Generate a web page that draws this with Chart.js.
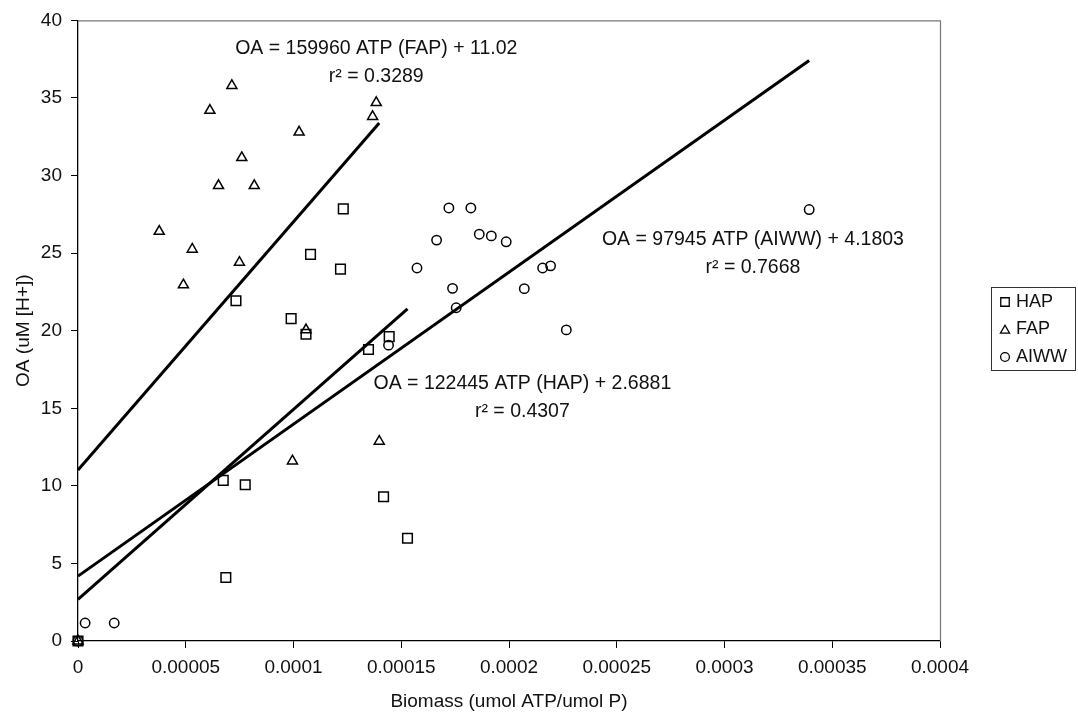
<!DOCTYPE html>
<html>
<head>
<meta charset="utf-8">
<title>OA vs Biomass</title>
<script src="https://cdn.jsdelivr.net/npm/chart.js@4/dist/chart.umd.min.js"></script>
<style>
  html, body { margin: 0; padding: 0; background: #fff; }
  canvas { display: block; }
</style>
</head>
<body>
<canvas id="oaChart" width="1078" height="715"></canvas>
<script>
// Series values (x = umol ATP/umol P, y = uM [H+])
const hapX = [0, 0.0000686, 0.0000674, 0.0000776, 0.0000733, 0.0000989, 0.0001058, 0.0001079, 0.0001218, 0.0001231, 0.0001348, 0.0001444, 0.0001418, 0.0001529];
const hapY = [0, 4.09, 10.35, 10.07, 21.93, 20.78, 19.77, 24.92, 23.97, 27.85, 18.79, 19.62, 9.3, 6.62];

const fapX = [0, 0.0000377, 0.0000489, 0.000053, 0.0000612, 0.0000652, 0.0000714, 0.0000749, 0.000076, 0.0000818, 0.0000995, 0.0001026, 0.0001058, 0.0001367, 0.0001384, 0.0001398];
const fapY = [0, 26.4, 22.95, 25.25, 34.2, 29.35, 35.8, 24.4, 31.15, 29.35, 11.6, 32.8, 20.05, 33.8, 34.7, 12.87];

const aiwwX = [0, 0.0000033, 0.0000168, 0.0001441, 0.0001573, 0.0001664, 0.0001721, 0.0001738, 0.0001755, 0.0001823, 0.0001862, 0.0001918, 0.0001987, 0.0002071, 0.0002156, 0.0002193, 0.0002266, 0.0003393];
const aiwwY = [0, 1.16, 1.16, 19.07, 24.04, 25.84, 27.91, 22.73, 21.48, 27.91, 26.22, 26.11, 25.73, 22.71, 24.04, 24.18, 20.05, 27.81];

// Linear fits: OA = slope * ATP + intercept
const seriesNames = ['HAP', 'FAP', 'AIWW'];
const fitSlopes = [122445, 159960, 97945];
const fitIntercepts = ['2.6881', '11.02', '4.1803'];
const fitR2 = ['0.4307', '0.3289', '0.7668'];

// Axis ticks
const xTickValues = [0, 0.00005, 0.0001, 0.00015, 0.0002, 0.00025, 0.0003, 0.00035, 0.0004];
const xTickLabels = ['0', '0.00005', '0.0001', '0.00015', '0.0002', '0.00025', '0.0003', '0.00035', '0.0004'];
const yTickValues = [0, 5, 10, 15, 20, 25, 30, 35, 40];

const seriesX = [hapX, fapX, aiwwX];
const seriesY = [hapY, fapY, aiwwY];
const markerStyles = [
  { pointStyle: 'rect', radius: 6.8 },
  { pointStyle: 'triangle', radius: 5.8 },
  { pointStyle: 'circle', radius: 4.7 }
];
// where the equation labels sit, in data units (centre of the text block)
const labelAnchors = [
  { x: 0.0002062, y: 16.6 },
  { x: 0.0001384, y: 38.2 },
  { x: 0.0003132, y: 25.9 }
];

const FONT = 'Arial, "Liberation Sans", sans-serif';
Chart.defaults.font.family = FONT;
Chart.defaults.font.size = 19;
Chart.defaults.color = '#111';

const toPoints = (xs, ys) => xs.map((x, i) => ({ x: x, y: ys[i] }));

const datasets = [];
seriesNames.forEach((name, i) => {
  datasets.push({
    type: 'scatter',
    label: name,
    data: toPoints(seriesX[i], seriesY[i]),
    pointStyle: markerStyles[i].pointStyle,
    pointRadius: markerStyles[i].radius,
    pointBorderWidth: 1.5,
    borderColor: '#000',
    backgroundColor: 'rgba(0,0,0,0)',
    clip: false,
    order: 1
  });
});
seriesNames.forEach((name, i) => {
  const xEnd = Math.max(...seriesX[i]);
  const b = parseFloat(fitIntercepts[i]);
  datasets.push({
    type: 'line',
    label: name + ' fit',
    data: [{ x: 0, y: b }, { x: xEnd, y: fitSlopes[i] * xEnd + b }],
    borderColor: '#000',
    borderWidth: 3,
    pointRadius: 0,
    fill: false,
    tension: 0,
    clip: false,
    order: 2
  });
});

// top/right frame of the plot area
const frame = {
  id: 'frame',
  beforeDatasetsDraw(chart) {
    const { ctx, chartArea: a } = chart;
    ctx.save();
    ctx.strokeStyle = '#777';
    ctx.lineWidth = 1.2;
    ctx.beginPath();
    ctx.moveTo(a.left, a.top + 0.5);
    ctx.lineTo(a.right + 0.5, a.top + 0.5);
    ctx.lineTo(a.right + 0.5, a.bottom);
    ctx.stroke();
    ctx.restore();
  }
};

// regression equations and r^2 values
const fitLabels = {
  id: 'fitLabels',
  afterDatasetsDraw(chart) {
    const { ctx, scales } = chart;
    ctx.save();
    ctx.fillStyle = '#111';
    ctx.font = '19.5px ' + FONT;
    ctx.textAlign = 'center';
    ctx.textBaseline = 'middle';
    seriesNames.forEach((name, i) => {
      const cx = scales.x.getPixelForValue(labelAnchors[i].x);
      const cy = scales.y.getPixelForValue(labelAnchors[i].y);
      ctx.fillText('OA = ' + fitSlopes[i] + ' ATP (' + name + ') + ' + fitIntercepts[i], cx, cy);
      ctx.fillText('r\u00B2 = ' + fitR2[i], cx, cy + 28);
    });
    ctx.restore();
  }
};

// boxed legend to the right of the plot
const boxLegend = {
  id: 'boxLegend',
  afterDraw(chart) {
    const { ctx } = chart;
    const left = 991, top = 287, width = 84, height = 83;
    ctx.save();
    ctx.strokeStyle = '#333';
    ctx.lineWidth = 1;
    ctx.strokeRect(left + 0.5, top + 0.5, width, height);
    ctx.textBaseline = 'middle';
    const legendMarkers = [
      { pointStyle: 'rect', radius: 6 },
      { pointStyle: 'triangle', radius: 5.3 },
      { pointStyle: 'circle', radius: 4.4 }
    ];
    seriesNames.forEach((name, i) => {
      const y = top + 15 + i * 27.5;
      ctx.strokeStyle = '#000';
      ctx.fillStyle = 'rgba(0,0,0,0)';
      ctx.lineWidth = 1.3;
      Chart.helpers.drawPoint(ctx, {
        pointStyle: legendMarkers[i].pointStyle,
        radius: legendMarkers[i].radius,
        borderWidth: 1.3
      }, left + 14, y + (i === 1 ? 1 : 0));
      ctx.font = '18px ' + FONT;
      ctx.fillStyle = '#111';
      ctx.fillText(name, left + 25, y);
    });
    ctx.restore();
  }
};

const ctx = document.getElementById('oaChart').getContext('2d');
new Chart(ctx, {
  data: { datasets: datasets },
  options: {
    responsive: false,
    animation: false,
    layout: { padding: { top: 18, right: 138, left: 0, bottom: 0 } },
    plugins: {
      legend: { display: false },
      tooltip: { enabled: false }
    },
    scales: {
      x: {
        type: 'linear',
        min: 0,
        max: 0.0004,
        afterBuildTicks: (scale) => { scale.ticks = xTickValues.map(v => ({ value: v })); },
        afterFit: (scale) => { scale.height = 74; },
        ticks: {
          padding: 8,
          maxRotation: 0,
          autoSkip: false,
          color: '#111',
          callback: (value, index) => xTickLabels[index]
        },
        grid: { drawOnChartArea: false, drawTicks: true, tickLength: 7, color: '#000' },
        border: { color: '#000', width: 1.3 },
        title: {
          display: true,
          text: 'Biomass (umol ATP/umol P)',
          color: '#111',
          font: { size: 19 },
          padding: { top: 0, bottom: 2 }
        }
      },
      y: {
        type: 'linear',
        min: 0,
        max: 40,
        afterBuildTicks: (scale) => { scale.ticks = yTickValues.map(v => ({ value: v })); },
        afterFit: (scale) => { scale.width = 78; },
        ticks: { padding: 9, color: '#111' },
        grid: { drawOnChartArea: false, drawTicks: true, tickLength: 7, color: '#000' },
        border: { color: '#000', width: 1.3 },
        title: {
          display: true,
          text: 'OA (uM [H+])',
          color: '#111',
          font: { size: 19 },
          padding: { top: 12, bottom: 0 }
        }
      }
    }
  },
  plugins: [frame, fitLabels, boxLegend]
});
</script>
</body>
</html>
